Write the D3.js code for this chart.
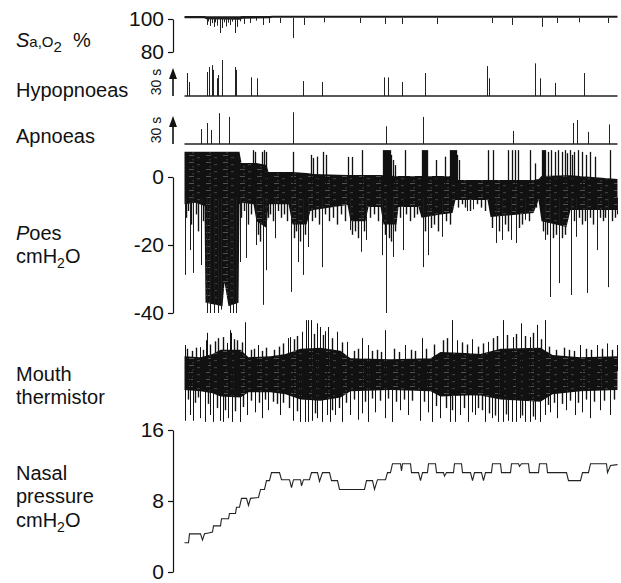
<!DOCTYPE html>
<html>
<head>
<meta charset="utf-8">
<script src="https://cdn.jsdelivr.net/npm/d3@7"></script>
<style>
    body { margin: 0; background: #fff; }
    text { font-family: "Liberation Sans", Arial, Helvetica, sans-serif; fill: #111; }
</style>
</head>
<body>
<div id="chart"></div>
<script>
const svgWidth = 621, svgHeight = 583;
const plot_left = 184.5, plot_right = 617.5, axis_x = 173;

// time across the night, in minutes from lights out
const time_domain = [0, 433];

// SaO2 (%) : band of the trace and the desaturation dips [time, %]
const sa_time  = [0, 20, 22, 55, 58, 85, 88, 433];
const sa_upper = [101.8, 101.8, 101.6, 101.6, 101.8, 101.8, 101.9, 101.9];
const sa_lower = [100.4, 100.4, 99.8, 99.6, 100.2, 100.4, 100.8, 100.8];
const sa_dips = [[23, 96.4], [24, 98.5], [26, 95.8], [28, 97.5], [30, 95.2], [31, 98], [33, 96], [36, 91.5], [38, 94.5],
    [40, 98], [42, 95.5], [44, 97.8], [46, 96.4], [48, 98.4], [51, 91.5], [53, 95.2], [56, 98.6], [60, 97], [66, 97.6],
    [72, 99], [79, 96.4], [85, 97.6], [96, 97.6], [109, 88.5], [120, 96.4], [140, 98], [176, 97.6], [201, 97],
    [218, 97], [253, 97], [308, 97.6], [328, 96.4], [358, 95.2], [373, 97.6], [395, 98], [424, 97.6]];
const sa_ticks = [80, 100];

// hypopnoeas and apnoeas : event time and duration (s)
const hyp_time = [3, 5, 23, 25, 28, 29, 33, 34, 38, 51, 52, 67, 73, 119, 138, 200, 204, 218, 241, 303, 305, 351, 356, 371, 400];
const hyp_sec  = [24.6, 15, 25.7, 31, 33, 28, 19, 22.5, 38.6, 31, 28, 20, 19, 16, 15, 20, 20, 15, 24.6, 32, 19, 35, 19, 14, 24.6];
const apn_time = [17, 23, 27, 35, 45, 109, 202, 239, 329, 389, 393, 404, 425];
const apn_sec  = [16, 22.5, 15, 33, 29, 34, 19, 29, 14, 22.5, 25.7, 13, 21];

// oesophageal pressure (cmH2O) : envelope of the breathing swings + single spikes [time, value]
const poes_time = [0, 11, 20, 21, 38, 40, 44, 54, 55, 57, 69, 72, 82, 84, 104, 108, 122, 126, 129, 163,
    166, 181, 184, 196, 199, 212, 214, 234, 237, 256, 268, 271, 303, 306, 349, 354, 357, 382, 386, 433];
const poes_top = [7.4, 7.4, 7.4, 7.4, 7.4, 7.4, 7.4, 7.4, 7.4, 4.1, 4.1, 4.1, 3.5, 1.5, 1.5, 1.5, 1.2, 1.0, 0.9, 0.6,
    0.6, 0.6, 0.6, 0.6, 0.5, 0.3, 0.3, 0.3, 0.3, 0.3, 0.2, -0.9, -0.9, -0.9, -0.9, -0.6, 0.3, 0.5, 0.5, -0.6];
const poes_bottom = [-8, -7.6, -8.5, -37, -38, -31, -38, -37, -8, -7.6, -8, -13, -15, -8, -8, -14, -14, -10, -9.7, -8.2,
    -13, -13, -8.8, -8.8, -14, -14, -8.8, -8.8, -12, -11, -10.6, -6.8, -6.8, -11.8, -10.6, -6.8, -13, -14.7, -9.7, -9.7];
const poes_up = [[69, 7.9], [71, 7.4], [78, 7.4], [80, 7.9], [82, 7.4], [109, 7.4], [127, 6.5], [129, 5.6], [133, 6],
    [139, 7.4], [142, 6.5], [164, 5.9], [168, 5.9], [178, 7.9], [199, 7.9], [200, 7.9], [201, 7.9], [202, 7.9],
    [203, 7.9], [204, 7.9], [205, 7.9], [206, 7.9], [207, 6.5], [209, 5], [211, 3.5], [221, 7.9], [238, 7.9],
    [239, 7.9], [240, 7.9], [241, 7.9], [242, 7.9], [243, 7.9], [252, 5], [261, 6], [266, 7.9], [267, 7.9],
    [268, 7.9], [269, 7.9], [270, 7.9], [271, 7.9], [272, 7.9], [273, 6.5], [275, 5], [304, 7.9], [309, 7.9],
    [324, 7.9], [328, 7.9], [331, 7.9], [334, 7.9], [346, 7.9], [351, 4], [358, 7.9], [359, 7.9], [360, 7.9],
    [361, 7.9], [364, 7.4], [367, 7.9], [371, 7.4], [374, 7.9], [378, 7.4], [381, 7.9], [383, 7], [386, 7.9],
    [388, 6.5], [390, 7.4], [394, 7.9], [398, 7.4], [402, 6.5], [406, 7.4], [411, 6], [426, 7.9]];
const poes_down = [[1, -28.8], [6, -21.5], [9, -28.2], [17, -25.9], [23, -40], [26, -40], [30, -40], [34, -40],
    [37, -39], [46, -40], [49, -40], [52, -40], [56, -25], [62, -23.8], [72, -20], [79, -37.6], [82, -27.4],
    [91, -18], [107, -33.8], [114, -25], [119, -28.8], [124, -20.6], [138, -26.5], [166, -15.6], [177, -22],
    [182, -18.5], [198, -23], [202, -40], [209, -23.5], [219, -21.5], [239, -26.5], [244, -23], [258, -17.6],
    [283, -10], [289, -9.5], [312, -19.4], [318, -18.5], [327, -18.5], [332, -19.4], [341, -12.6], [361, -18.5],
    [366, -35.3], [375, -31.2], [387, -34.7], [392, -17.6], [403, -34.1], [413, -21.5], [424, -32.4], [433, -11]];
// shorter breaths hanging below the band
const poes_fringe = [[2, -12], [4, -10], [7, -14], [12, -11], [14, -16], [19, -13], [57, -12], [60, -10], [64, -14],
    [67, -11], [74, -17], [76, -19], [84, -12], [86, -11], [89, -13], [94, -10], [97, -12], [100, -11], [103, -13],
    [110, -18], [112, -16], [116, -19], [121, -17], [128, -13], [131, -12], [135, -14], [141, -11], [145, -13],
    [149, -12], [153, -14], [157, -11], [161, -13], [168, -17], [171, -16], [174, -18], [180, -16], [186, -12],
    [190, -11], [194, -13], [201, -17], [205, -18], [207, -19], [211, -16], [216, -12], [222, -11], [226, -13],
    [230, -12], [233, -11], [241, -16], [247, -15], [250, -14], [254, -16], [262, -13], [266, -14], [274, -9],
    [278, -8], [281, -9], [286, -10], [293, -8], [297, -9], [301, -10], [308, -15], [315, -16], [321, -14],
    [324, -16], [335, -15], [338, -14], [345, -13], [352, -9], [359, -16], [363, -17], [369, -18], [372, -17],
    [378, -18], [381, -17], [390, -13], [395, -12], [398, -14], [401, -13], [406, -12], [409, -14], [416, -12],
    [419, -13], [421, -12], [428, -13], [431, -12]];
const poes_ticks = [-40, -20, 0];

// mouth thermistor (arbitrary units) : envelope + spikes
const mouth_time   = [0, 16, 28, 36, 56, 64, 86, 101, 116, 136, 156, 166, 206, 246, 256, 281, 296, 316, 356, 368, 396, 433];
const mouth_top    = [2.8, 2.6, 3.2, 4.0, 4.0, 2.6, 2.8, 3.2, 4.2, 4.4, 3.8, 2.4, 2.2, 2.4, 3.6, 3.4, 3.2, 4.2, 4.4, 3.0, 2.6, 2.8];
const mouth_bottom = [-3.6, -3.8, -4.2, -4.8, -5.0, -4.0, -4.0, -4.4, -5.4, -5.6, -5.0, -3.8, -3.6, -3.8, -4.8, -4.6, -4.6, -5.4, -5.8, -4.4, -3.8, -3.6];
const mouth_up = [[1, 4.9], [16, 4.5], [22, 5.8], [23, 7.2], [43, 5.3], [46, 7.7], [47, 7.2], [61, 9.2], [74, 4.9],
    [104, 6.2], [106, 6.4], [118, 7.4], [122, 9.6], [124, 9.6], [127, 9.6], [133, 9], [136, 8.3], [141, 7.5],
    [144, 8.3], [153, 7.4], [163, 5.5], [178, 6.2], [184, 4.9], [201, 7.7], [221, 4.9], [238, 6.2], [268, 9.6],
    [273, 5.8], [288, 6], [304, 5.5], [319, 9.6], [329, 6.4], [337, 9], [346, 6.4], [353, 8.7], [361, 9.6],
    [396, 4.9], [413, 4.9], [423, 5.2], [433, 4.9]];
const mouth_down = [[1, -9.4], [6, -8.3], [9, -9.4], [16, -8.9], [21, -9.6], [26, -8.3], [29, -9.6], [36, -9.4],
    [39, -9.6], [44, -8.9], [48, -9.6], [56, -9.6], [63, -8.3], [71, -7.8], [78, -8.9], [84, -7.4], [96, -8.3],
    [109, -9.4], [116, -9.6], [121, -9.6], [124, -9.6], [128, -9.4], [133, -8.9], [138, -9.6], [143, -8.3],
    [146, -9.6], [151, -8.3], [158, -9.6], [166, -8.3], [174, -9.2], [178, -8], [184, -9.6], [191, -7.8],
    [201, -8.9], [208, -9.6], [216, -7.4], [224, -8.3], [236, -9.4], [244, -7.8], [248, -9.6], [256, -8.9],
    [266, -9.6], [271, -9.6], [276, -8.3], [284, -9.6], [288, -7.8], [291, -8.3], [301, -9.6], [308, -8.9],
    [314, -9.6], [319, -9.6], [324, -9.4], [328, -9.6], [332, -9.6], [336, -8.9], [341, -9.6], [346, -9.6],
    [351, -9.2], [356, -9.6], [361, -8.3], [366, -7.8], [373, -8.9], [382, -7.4], [391, -8.3], [398, -7.8],
    [406, -8.9], [416, -7.4], [426, -8.3]];
// shorter breaths above and below the band
const mouth_fringe_up = [[3, 4.2], [8, 3.8], [12, 4.4], [19, 4.0], [26, 5.0], [31, 5.6], [34, 6.2], [39, 6.4], [50, 6.0],
    [53, 5.8], [58, 5.4], [67, 4.0], [70, 4.2], [78, 3.8], [82, 4.4], [90, 4.0], [95, 4.6], [99, 5.2], [110, 6.0],
    [113, 6.6], [130, 7.0], [139, 6.8], [148, 6.2], [158, 5.4], [170, 3.8], [174, 4.2], [188, 3.8], [193, 4.0],
    [197, 3.6], [210, 4.2], [215, 3.6], [227, 4.0], [231, 3.8], [242, 4.2], [250, 5.0], [259, 5.8], [263, 6.2],
    [278, 5.4], [283, 5.0], [294, 4.6], [299, 5.2], [309, 6.2], [313, 6.6], [323, 6.8], [332, 7.0], [341, 6.6],
    [349, 7.2], [357, 6.0], [365, 4.6], [372, 4.0], [380, 4.4], [385, 4.0], [390, 3.8], [402, 4.2], [407, 4.0],
    [418, 4.2], [428, 4.0]];
const mouth_fringe_down = [[4, -5.4], [11, -6.0], [14, -5.0], [24, -6.2], [33, -7.0], [41, -7.4], [51, -7.6], [59, -6.8],
    [67, -5.6], [75, -6.0], [81, -5.4], [89, -5.8], [93, -6.2], [99, -6.0], [105, -7.0], [113, -7.6], [131, -8.0],
    [148, -7.4], [155, -7.0], [162, -6.0], [170, -5.4], [181, -5.8], [188, -5.2], [196, -5.6], [204, -5.2],
    [212, -5.8], [220, -5.4], [228, -5.6], [240, -5.8], [252, -6.6], [262, -7.0], [268, -7.4], [280, -7.0],
    [294, -7.0], [298, -7.4], [305, -8.0], [311, -8.4], [322, -8.2], [338, -8.4], [349, -8.6], [364, -6.4],
    [370, -6.0], [378, -6.2], [386, -5.6], [394, -6.0], [402, -5.4], [410, -5.8], [420, -5.6], [430, -5.4]];

// nasal CPAP pressure (cmH2O)
const nasal_time = [0, 4, 5, 16, 18, 20, 24, 28, 29, 36, 37, 44, 45, 51, 52, 55, 57, 62, 64, 66, 74, 76, 80, 82, 85,
    87, 95, 97, 105, 107, 109, 116, 117, 119, 125, 127, 133, 135, 138, 145, 147, 153, 155, 180, 182, 188, 190, 193,
    201, 203, 206, 208, 216, 217, 218, 226, 227, 234, 236, 238, 243, 244, 251, 252, 259, 260, 262, 269, 270, 277,
    278, 286, 288, 290, 297, 299, 301, 307, 308, 316, 317, 326, 327, 334, 335, 337, 344, 345, 354, 355, 362, 363,
    382, 384, 396, 398, 404, 406, 422, 423, 426, 433];
const nasal_value = [3.3, 3.3, 4.3, 4.3, 3.6, 4.3, 4.4, 4.5, 5.2, 5.2, 6.0, 6.0, 6.6, 6.6, 7.3, 7.3, 8.3, 8.3, 7.5, 8.3,
    8.4, 9.3, 9.3, 10.3, 10.3, 11.2, 11.2, 10.4, 10.4, 9.5, 10.4, 10.4, 9.7, 10.4, 10.4, 11.2, 11.2, 10.2, 11.2, 11.2,
    10.3, 10.3, 9.3, 9.3, 10.3, 10.3, 9.3, 10.4, 10.4, 11.2, 11.2, 12.2, 12.2, 11.4, 12.2, 12.2, 11.2, 11.2, 10.3,
    11.2, 11.2, 12.2, 12.2, 11.2, 11.2, 10.8, 11.2, 11.2, 12.2, 12.2, 11.2, 11.2, 10.3, 11.2, 11.2, 10.3, 11.2, 11.2,
    12.2, 12.2, 11.2, 11.2, 12.2, 12.2, 11.9, 12.2, 12.2, 11.2, 11.2, 12.2, 12.2, 11.2, 11.2, 10.3, 10.3, 11.2, 11.2,
    12.2, 12.2, 11.2, 12.0, 12.1];
const nasal_ticks = [0, 8, 16];

// ---- scales ----
const x = d3.scaleLinear().domain(time_domain).range([plot_left, plot_right]);
const sa_y = d3.scaleLinear().domain([80, 100]).range([52, 19]);
const hyp_y = d3.scaleLinear().domain([0, 30]).range([96, 68]);
const apn_y = d3.scaleLinear().domain([0, 30]).range([144, 116]);
const poes_y = d3.scaleLinear().domain([-40, 0]).range([313, 177]);
const mouth_y = d3.scaleLinear().domain([-10, 10]).range([424, 318]);
const nasal_y = d3.scaleLinear().domain([0, 16]).range([572, 430]);

const svg = d3.select("#chart")
    .append("svg")
    .attr("width", svgWidth)
    .attr("height", svgHeight);

// speckled black fill used for the dense signal bands
let pattern = svg.append("defs")
    .append("pattern")
        .attr("id", "dense")
        .attr("width", 17)
        .attr("height", 7)
        .attr("patternUnits", "userSpaceOnUse");
pattern.append("rect").attr("width", 17).attr("height", 7).attr("fill", "#111");
pattern.append("rect").attr("x", 2).attr("y", 1).attr("width", 5).attr("height", 0.6).attr("fill", "#fff").attr("opacity", 0.45);
pattern.append("rect").attr("x", 10).attr("y", 3.5).attr("width", 3).attr("height", 0.6).attr("fill", "#fff").attr("opacity", 0.35);
pattern.append("rect").attr("x", 5).attr("y", 5.6).attr("width", 2).attr("height", 0.6).attr("fill", "#fff").attr("opacity", 0.3);

function add_band(times, top, bottom, yScale, fill) {
    let rows = times.map((t, i) => ({ t: t, hi: top[i], lo: bottom[i] }));
    svg.append("path")
        .datum(rows)
        .attr("d", d3.area()
            .x(d => x(d.t))
            .y0(d => yScale(d.lo))
            .y1(d => yScale(d.hi)))
        .attr("fill", fill);
}

// vertical spike from a base value (inside the band) to the value
function add_spikes(spikes, base, yScale, width, color) {
    svg.append("g")
        .selectAll("line")
        .data(spikes)
        .enter()
        .append("line")
            .attr("x1", d => x(d[0]))
            .attr("x2", d => x(d[0]))
            .attr("y1", yScale(base))
            .attr("y2", d => yScale(d[1]))
            .attr("stroke", color || "#111")
            .attr("stroke-width", width);
}

function add_events(times, secs, yScale) {
    svg.append("line")
        .attr("x1", x(time_domain[0]))
        .attr("x2", x(time_domain[1]))
        .attr("y1", yScale(0))
        .attr("y2", yScale(0))
        .attr("stroke", "#222")
        .attr("stroke-width", 1.3);
    svg.append("g")
        .selectAll("line")
        .data(times)
        .enter()
        .append("line")
            .attr("x1", d => x(d))
            .attr("x2", d => x(d))
            .attr("y1", yScale(0))
            .attr("y2", (d, i) => yScale(secs[i]))
            .attr("stroke", "#222")
            .attr("stroke-width", 1);
    // 30 s scale arrow
    svg.append("line")
        .attr("x1", axis_x).attr("x2", axis_x)
        .attr("y1", yScale(0)).attr("y2", yScale(30) + 8)
        .attr("stroke", "#111").attr("stroke-width", 1.6);
    svg.append("path")
        .attr("d", `M${axis_x - 4},${yScale(30) + 11} L${axis_x},${yScale(30)} L${axis_x + 4},${yScale(30) + 11} Z`)
        .attr("fill", "#111");
    svg.append("text")
        .attr("transform", `translate(161,${yScale(15)}) rotate(-90)`)
        .attr("text-anchor", "middle")
        .style("font-size", "14px")
        .text("30 s");
}

function add_axis(yScale, ticks) {
    let g = svg.append("g")
        .attr("transform", `translate(${axis_x},0)`)
        .call(d3.axisLeft(yScale).tickValues(ticks).tickSize(5).tickSizeOuter(0).tickPadding(4).tickFormat(d => String(d)));
    g.select(".domain").attr("stroke", "#111").attr("stroke-width", 1.2);
    g.selectAll(".tick line").attr("stroke", "#111").attr("stroke-width", 1.2);
    g.selectAll(".tick text")
        .attr("fill", "#111")
        .style("font-family", "'Liberation Sans', Arial, sans-serif")
        .style("font-size", "21px");
}

function add_label(lines, x0, y0) {
    lines.forEach((parts, i) => {
        let t = svg.append("text")
            .attr("x", x0)
            .attr("y", y0[i])
            .style("font-size", "20px");
        parts.forEach(p => {
            t.append("tspan")
                .style("font-style", p.italic ? "italic" : "normal")
                .style("font-size", p.size ? p.size + "px" : null)
                .attr("dy", p.dy || null)
                .text(p.text);
        });
    });
}

// SaO2
add_band(sa_time, sa_upper, sa_lower, sa_y, "#1a1a1a");
add_spikes(sa_dips, 100.6, sa_y, 1, "#222");
add_axis(sa_y, sa_ticks);

// events
add_events(hyp_time, hyp_sec, hyp_y);
add_events(apn_time, apn_sec, apn_y);

// Poes
add_spikes(poes_fringe, -6, poes_y, 1.4);
add_band(poes_time, poes_top, poes_bottom, poes_y, "url(#dense)");
add_spikes(poes_up, -2, poes_y, 1.3);
add_spikes(poes_down, -6, poes_y, 1, "#1c1c1c");
add_axis(poes_y, poes_ticks);

// mouth thermistor
add_spikes(mouth_fringe_up, 0, mouth_y, 1.4);
add_spikes(mouth_fringe_down, 0, mouth_y, 1.4);
add_band(mouth_time, mouth_top, mouth_bottom, mouth_y, "url(#dense)");
add_spikes(mouth_up, 0, mouth_y, 1);
add_spikes(mouth_down, 0, mouth_y, 1);

// nasal pressure
svg.append("path")
    .datum(nasal_time.map((t, i) => [t, nasal_value[i]]))
    .attr("d", d3.line().x(d => x(d[0])).y(d => nasal_y(d[1])))
    .attr("fill", "none")
    .attr("stroke", "#222")
    .attr("stroke-width", 1.1);
add_axis(nasal_y, nasal_ticks);

// channel labels
add_label([[{ text: "S", italic: true }, { text: "a,O", size: 15 }, { text: "2", size: 15, dy: 5 }]], 16, [47]);
svg.append("text").attr("x", 73).attr("y", 47).style("font-size", "20px").text("%");
add_label([[{ text: "Hypopnoeas" }]], 16, [97]);
add_label([[{ text: "Apnoeas" }]], 16, [143]);
add_label([[{ text: "P", italic: true }, { text: "oes" }],
    [{ text: "cmH" }, { text: "2", size: 14, dy: 5 }, { text: "O", dy: -5 }]], 16, [240, 263]);
add_label([[{ text: "Mouth" }], [{ text: "thermistor" }]], 16, [381, 404]);
add_label([[{ text: "Nasal" }], [{ text: "pressure" }],
    [{ text: "cmH" }, { text: "2", size: 14, dy: 5 }, { text: "O", dy: -5 }]], 16, [480, 503, 527]);
</script>
</body>
</html>
